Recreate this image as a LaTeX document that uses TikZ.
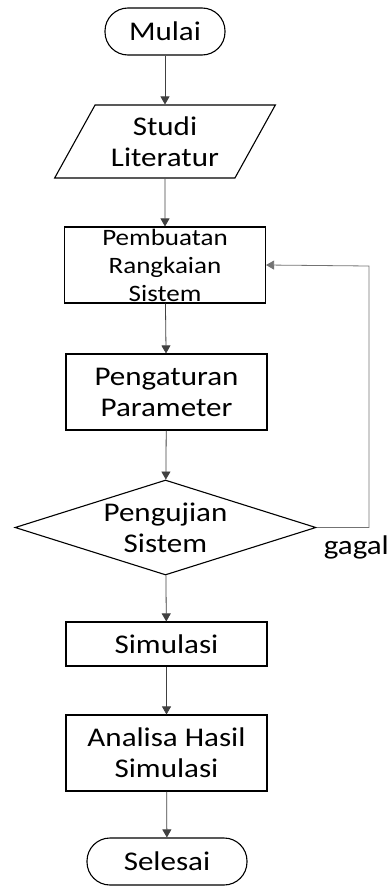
\documentclass[tikz,border=0pt]{standalone}
\usepackage{fontspec}
\setmainfont{Carlito}[FakeStretch=1.15]
\usepackage{tikz}
\usetikzlibrary{arrows.meta}
\usetikzlibrary{shapes.geometric}

\begin{document}
\begin{tikzpicture}[x=1pt, y=-1pt,
		teks/.style={align=center, font=\fontsize{27pt}{31pt}\selectfont},
		teksbesar/.style={align=center, font=\fontsize{23.5pt}{28pt}\selectfont},
		terminal/.style={draw, line width=1.1pt, rounded corners=23pt, minimum width=#1, minimum height=47pt, inner sep=0pt, teks},
		proses/.style={draw, line width=1.1pt, rectangle, minimum width=201pt, minimum height=#1, inner sep=0pt, teks},
		masukan/.style={draw, line width=1.1pt, trapezium, trapezium left angle=58, trapezium right angle=122,
			trapezium stretches=true, minimum width=221pt, minimum height=73pt, inner sep=0pt, teks},
		keputusan/.style={draw, line width=1.1pt, diamond, minimum width=301pt, minimum height=95pt, inner sep=0pt},
		panah/.style={draw=black!75, line width=0.8pt, -{Triangle[width=9pt,length=8pt]}},
		balikan/.style={draw=black!55, line width=0.8pt, -{Triangle[width=9pt,length=8pt]}}]
		\useasboundingbox (0,0) rectangle (391,886);
		
		\node[terminal=120pt] (mulai) at (165,31.5) {Mulai};
		\node[masukan] (studi) at (165,141.5) {Studi\\Literatur};
		\node[proses=76pt, label={[teksbesar]center:{Pembuatan\\Rangkaian\\Sistem}}] (buat) at (165,265) {};
		\node[proses=76pt] (atur) at (166.5,392) {Pengaturan\\Parameter};
		\node[keputusan, label={[teks]center:{Pengujian\\Sistem}}] (uji) at (165.5,527.5) {};
		\node[proses=44pt] (sim) at (166.5,644) {Simulasi};
		\node[proses=76pt] (analisa) at (166.5,753) {Analisa Hasil\\Simulasi};
		\node[terminal=160pt] (selesai) at (167,861.5) {Selesai};
		\node[teks, anchor=base east, inner sep=0pt] (gagal) at (389,554) {gagal};
		\coordinate (belok) at (369,266);
		
		\draw[panah] (mulai) -- (studi);
		\draw[panah] (studi) -- (buat);
		\draw[panah] (buat) -- (atur);
		\draw[panah] (atur) -- (uji);
		\draw[panah] (uji) -- (sim);
		\draw[panah] (sim) -- (analisa);
		\draw[panah] (analisa) -- (selesai);
		\draw[balikan] (uji.east) -| (belok) -- (buat.east);
		
		\end{tikzpicture}
\end{document}
